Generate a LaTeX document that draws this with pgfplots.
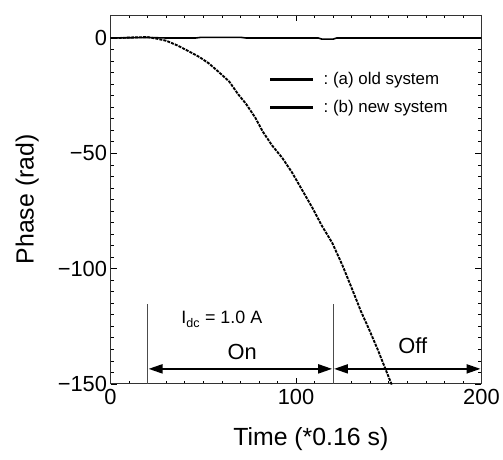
\documentclass[border=0pt]{standalone}
\usepackage{pgfplots}
\pgfplotsset{compat=1.18}
\usepackage{fontspec}
\setmainfont{Liberation Sans}
\usetikzlibrary{arrows.meta}

\begin{document}
\begin{tikzpicture}
\begin{axis}[
    scale only axis,
    width=372bp, height=370bp,
    xmin=0, xmax=200, ymin=-150, ymax=10,
    xtick={0,100,200}, ytick={-150,-100,-50,0},
    yticklabels={−150,−100,−50,0},
    minor x tick num=9, minor y tick num=9,
    tick align=inside,
    major tick length=6bp, minor tick length=3bp,
    every tick/.style={black, line width=0.6bp},
    axis line style={black!80, line width=0.8bp},
    tick label style={font=\fontsize{22}{26}\selectfont},
    /pgf/number format/assume math mode=true,
    xticklabel style={yshift=-2bp},
    clip=false,
    xlabel={Time (*0.16 s)},
    ylabel={Phase (rad)},
    label style={font=\fontsize{25}{30}\selectfont},
    xlabel style={at={(rel axis cs:0.54,-0.15)}, anchor=center},
    ylabel style={at={(rel axis cs:-0.225,0.5)}, anchor=center, rotate=0},
    legend style={draw=none, fill=none, at={(rel axis cs:0.42,0.857)}, anchor=north west,
        font=\fontsize{17}{20}\selectfont, row sep=11bp},
    legend cell align=left,
    legend image code/.code={\fill[black] (0bp,-1bp) rectangle (43bp,1bp);},
]
% (a) old system: drifting phase
\addplot[forget plot, black, line width=1.9bp, dash pattern=on 3bp off 1.1bp] coordinates {
    (0,0) (5,0) (10,0.2) (15,0.3) (20,0.4) (25,-0.3) (30,-1.2) (36,-3.2) (42.5,-5.9)
    (48,-8.3) (53,-11) (58,-14.5) (64,-18.9) (69,-24.6) (73,-28.5) (78,-34.5)
    (82,-40.5) (87,-46.5) (92.6,-52) (98,-58.5) (103,-65.5) (108.8,-73.6)
    (114,-81.5) (119.5,-88.8) (125,-98.5) (130.3,-109) (135,-118.5)
    (139.2,-126) (144,-135) (148.2,-143.5) (151.8,-150.7)
};
% (b) new system: stable phase
\addplot[forget plot, black, line width=1.6bp] coordinates {
    (0,0) (20,0.2) (30,0) (46,0) (49,0.3) (70,0.3) (73,0) (112,0) (114,-0.5)
    (120,-0.5) (122,0) (200,0)
};
\addlegendimage{black}
\addlegendentry{\hspace{9bp}:\ (a) old system}
\addlegendimage{black}
\addlegendentry{\hspace{9bp}:\ (b) new system}

% on/off annotation
\draw[black!70, line width=0.7bp] (axis cs:20,-150) -- (axis cs:20,-115.5);
\draw[black!70, line width=0.7bp] (axis cs:120,-150) -- (axis cs:120,-115.5);
\draw[line width=2bp, {Triangle[length=14bp,width=9bp]}-{Triangle[length=14bp,width=9bp]}]
    (axis cs:20.5,-143.5) -- (axis cs:119.5,-143.5);
\draw[line width=2bp, {Triangle[length=14bp,width=9bp]}-{Triangle[length=14bp,width=9bp]}]
    (axis cs:120.5,-143.5) -- (axis cs:199.5,-143.5);
\node[font=\fontsize{22}{26}\selectfont] at (axis cs:71,-136) {On};
\node[font=\fontsize{22}{26}\selectfont] at (axis cs:163,-133.5) {Off};
\node[font=\fontsize{18}{21}\selectfont] at (axis cs:60,-122) {I\textsubscript{dc} = 1.0 A};

\path (rel axis cs:-0.298,-0.205) rectangle (rel axis cs:1.054,1.0405);
\end{axis}
\end{tikzpicture}
\end{document}
